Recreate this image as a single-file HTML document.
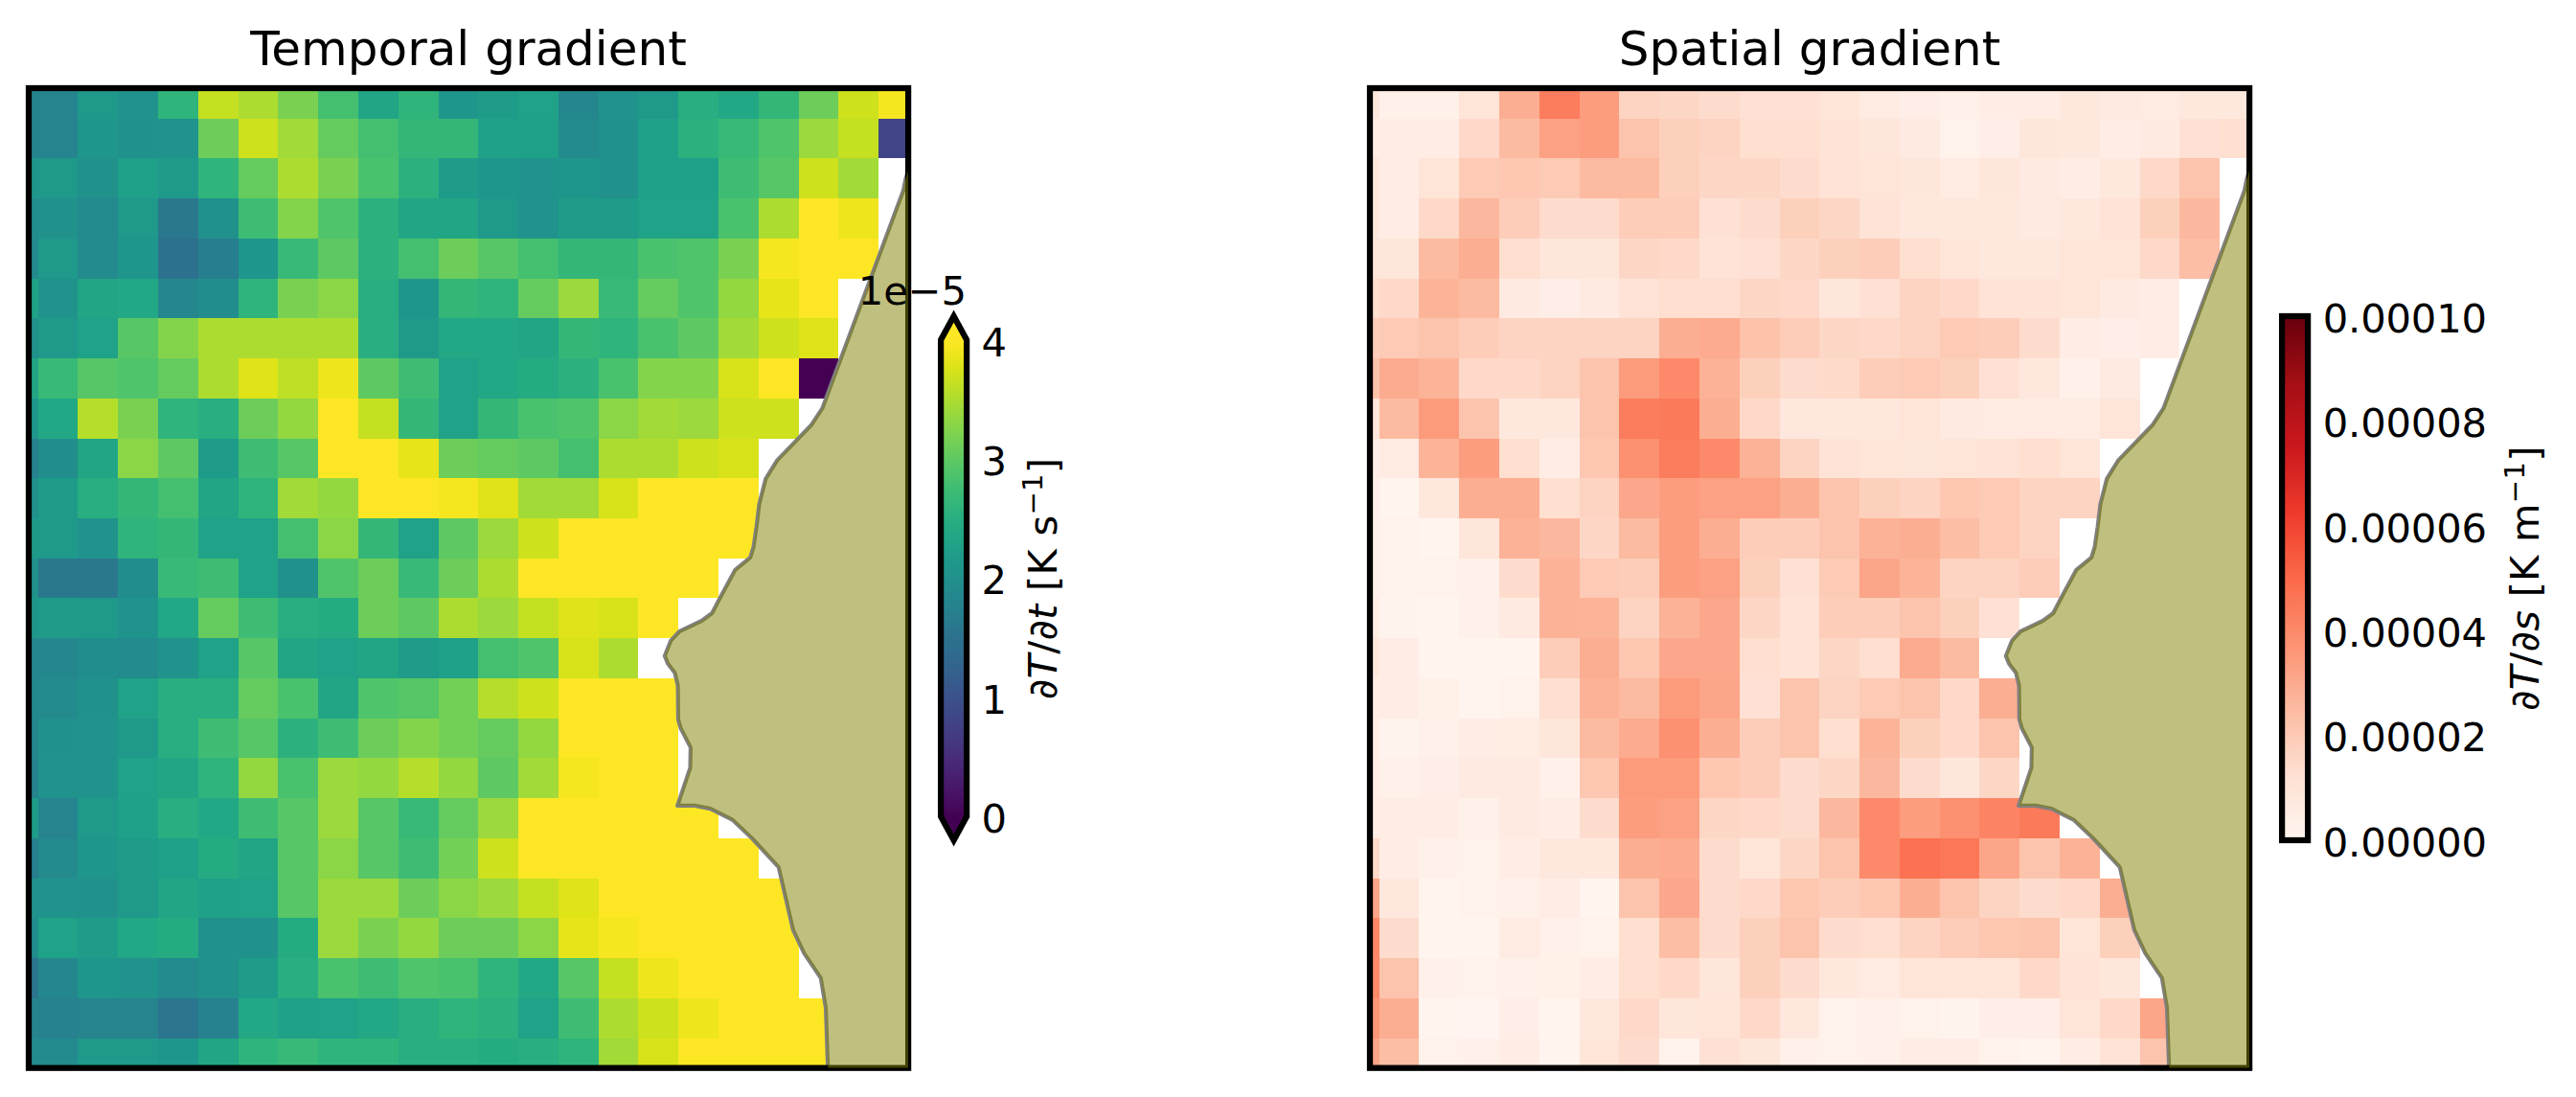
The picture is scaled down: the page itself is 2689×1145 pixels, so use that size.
<!DOCTYPE html>
<html lang="en"><head><meta charset="utf-8"><title>Temporal and spatial gradient</title>
<style>html,body{margin:0;padding:0;background:#fff}body{width:2689px;height:1145px;overflow:hidden}svg{display:block}</style>
</head><body>
<svg width="2689" height="1145" viewBox="0 0 2689 1145" font-family='"DejaVu Sans","Liberation Sans",sans-serif' fill="#000">
<defs><linearGradient id="gv" x1="0" y1="1" x2="0" y2="0"><stop offset="0.0000" stop-color="#440154"/><stop offset="0.0312" stop-color="#470d60"/><stop offset="0.0625" stop-color="#48186a"/><stop offset="0.0938" stop-color="#482374"/><stop offset="0.1250" stop-color="#472d7b"/><stop offset="0.1562" stop-color="#453781"/><stop offset="0.1875" stop-color="#424086"/><stop offset="0.2188" stop-color="#3e4989"/><stop offset="0.2500" stop-color="#3b528b"/><stop offset="0.2812" stop-color="#375b8d"/><stop offset="0.3125" stop-color="#33638d"/><stop offset="0.3438" stop-color="#2f6b8e"/><stop offset="0.3750" stop-color="#2c728e"/><stop offset="0.4062" stop-color="#297a8e"/><stop offset="0.4375" stop-color="#26828e"/><stop offset="0.4688" stop-color="#23898e"/><stop offset="0.5000" stop-color="#21918c"/><stop offset="0.5312" stop-color="#1f988b"/><stop offset="0.5625" stop-color="#1fa088"/><stop offset="0.5938" stop-color="#22a785"/><stop offset="0.6250" stop-color="#28ae80"/><stop offset="0.6562" stop-color="#32b67a"/><stop offset="0.6875" stop-color="#3fbc73"/><stop offset="0.7188" stop-color="#4ec36b"/><stop offset="0.7500" stop-color="#5ec962"/><stop offset="0.7812" stop-color="#70cf57"/><stop offset="0.8125" stop-color="#84d44b"/><stop offset="0.8438" stop-color="#98d83e"/><stop offset="0.8750" stop-color="#addc30"/><stop offset="0.9062" stop-color="#c2df23"/><stop offset="0.9375" stop-color="#d8e219"/><stop offset="0.9688" stop-color="#ece51b"/><stop offset="1.0000" stop-color="#fde725"/></linearGradient><linearGradient id="gr" x1="0" y1="1" x2="0" y2="0"><stop offset="0.0000" stop-color="#fff5f0"/><stop offset="0.0312" stop-color="#fff0e8"/><stop offset="0.0625" stop-color="#feeae1"/><stop offset="0.0938" stop-color="#fee5d9"/><stop offset="0.1250" stop-color="#fee0d2"/><stop offset="0.1562" stop-color="#fdd7c6"/><stop offset="0.1875" stop-color="#fdcdb9"/><stop offset="0.2188" stop-color="#fcc4ad"/><stop offset="0.2500" stop-color="#fcbba1"/><stop offset="0.2812" stop-color="#fcb095"/><stop offset="0.3125" stop-color="#fca689"/><stop offset="0.3438" stop-color="#fc9c7d"/><stop offset="0.3750" stop-color="#fc9272"/><stop offset="0.4062" stop-color="#fc8767"/><stop offset="0.4375" stop-color="#fb7d5d"/><stop offset="0.4688" stop-color="#fb7353"/><stop offset="0.5000" stop-color="#fb694a"/><stop offset="0.5312" stop-color="#f85d42"/><stop offset="0.5625" stop-color="#f5523a"/><stop offset="0.5938" stop-color="#f24633"/><stop offset="0.6250" stop-color="#ee3a2c"/><stop offset="0.6562" stop-color="#e53228"/><stop offset="0.6875" stop-color="#dc2924"/><stop offset="0.7188" stop-color="#d32020"/><stop offset="0.7500" stop-color="#ca181d"/><stop offset="0.7812" stop-color="#c1161b"/><stop offset="0.8125" stop-color="#b71319"/><stop offset="0.8438" stop-color="#ad1117"/><stop offset="0.8750" stop-color="#a30f15"/><stop offset="0.9062" stop-color="#940b13"/><stop offset="0.9375" stop-color="#840711"/><stop offset="0.9688" stop-color="#75030f"/><stop offset="1.0000" stop-color="#67000d"/></linearGradient><clipPath id="cl"><rect x="30" y="92" width="918.1" height="1022.7"/></clipPath><clipPath id="cr"><rect x="1430" y="92" width="918.1" height="1022.7"/></clipPath></defs>
<rect width="2689" height="1145" fill="#fff"/>
<g clip-path="url(#cl)" shape-rendering="crispEdges">
<rect x="29" y="91" width="52" height="33" fill="#25848e"/>
<rect x="81" y="91" width="42" height="33" fill="#1f998a"/>
<rect x="123" y="91" width="42" height="33" fill="#20938c"/>
<rect x="165" y="91" width="42" height="33" fill="#2fb47c"/>
<rect x="207" y="91" width="42" height="33" fill="#c5e021"/>
<rect x="249" y="91" width="41" height="33" fill="#addc30"/>
<rect x="290" y="91" width="42" height="33" fill="#7ad151"/>
<rect x="332" y="91" width="42" height="33" fill="#44bf70"/>
<rect x="374" y="91" width="42" height="33" fill="#21a585"/>
<rect x="416" y="91" width="42" height="33" fill="#2fb47c"/>
<rect x="458" y="91" width="41" height="33" fill="#1f968b"/>
<rect x="499" y="91" width="42" height="33" fill="#1e9c89"/>
<rect x="541" y="91" width="42" height="33" fill="#1fa287"/>
<rect x="583" y="91" width="42" height="33" fill="#24878e"/>
<rect x="625" y="91" width="41" height="33" fill="#20938c"/>
<rect x="666" y="91" width="42" height="33" fill="#1f998a"/>
<rect x="708" y="91" width="42" height="33" fill="#28ae80"/>
<rect x="750" y="91" width="42" height="33" fill="#22a884"/>
<rect x="792" y="91" width="42" height="33" fill="#34b679"/>
<rect x="834" y="91" width="41" height="33" fill="#6ccd5a"/>
<rect x="875" y="91" width="42" height="33" fill="#cde11d"/>
<rect x="917" y="91" width="32" height="33" fill="#f6e620"/>
<rect x="29" y="124" width="52" height="41" fill="#25848e"/>
<rect x="81" y="124" width="42" height="41" fill="#1f968b"/>
<rect x="123" y="124" width="42" height="41" fill="#21918c"/>
<rect x="165" y="124" width="42" height="41" fill="#20938c"/>
<rect x="207" y="124" width="42" height="41" fill="#6ccd5a"/>
<rect x="249" y="124" width="41" height="41" fill="#cde11d"/>
<rect x="290" y="124" width="42" height="41" fill="#a2da37"/>
<rect x="332" y="124" width="42" height="41" fill="#65cb5e"/>
<rect x="374" y="124" width="42" height="41" fill="#44bf70"/>
<rect x="416" y="124" width="83" height="41" fill="#34b679"/>
<rect x="499" y="124" width="84" height="41" fill="#1fa088"/>
<rect x="583" y="124" width="42" height="41" fill="#238a8d"/>
<rect x="625" y="124" width="41" height="41" fill="#21918c"/>
<rect x="666" y="124" width="42" height="41" fill="#1fa088"/>
<rect x="708" y="124" width="42" height="41" fill="#2cb17e"/>
<rect x="750" y="124" width="42" height="41" fill="#38b977"/>
<rect x="792" y="124" width="42" height="41" fill="#50c46a"/>
<rect x="834" y="124" width="41" height="41" fill="#9bd93c"/>
<rect x="875" y="124" width="42" height="41" fill="#c5e021"/>
<rect x="917" y="124" width="32" height="41" fill="#414487"/>
<rect x="29" y="165" width="11" height="42" fill="#1f968b"/>
<rect x="40" y="165" width="41" height="42" fill="#1f998a"/>
<rect x="81" y="165" width="42" height="42" fill="#21918c"/>
<rect x="123" y="165" width="42" height="42" fill="#1fa088"/>
<rect x="165" y="165" width="42" height="42" fill="#1f998a"/>
<rect x="207" y="165" width="42" height="42" fill="#2fb47c"/>
<rect x="249" y="165" width="41" height="42" fill="#65cb5e"/>
<rect x="290" y="165" width="42" height="42" fill="#addc30"/>
<rect x="332" y="165" width="42" height="42" fill="#7ad151"/>
<rect x="374" y="165" width="42" height="42" fill="#4ac16d"/>
<rect x="416" y="165" width="42" height="42" fill="#2cb17e"/>
<rect x="458" y="165" width="41" height="42" fill="#1e9c89"/>
<rect x="499" y="165" width="42" height="42" fill="#1f968b"/>
<rect x="541" y="165" width="42" height="42" fill="#20938c"/>
<rect x="583" y="165" width="42" height="42" fill="#1f968b"/>
<rect x="625" y="165" width="41" height="42" fill="#21918c"/>
<rect x="666" y="165" width="84" height="42" fill="#1fa088"/>
<rect x="750" y="165" width="42" height="42" fill="#3fbc73"/>
<rect x="792" y="165" width="42" height="42" fill="#56c667"/>
<rect x="834" y="165" width="41" height="42" fill="#cde11d"/>
<rect x="875" y="165" width="42" height="42" fill="#a2da37"/>
<rect x="29" y="207" width="11" height="42" fill="#228d8d"/>
<rect x="40" y="207" width="41" height="42" fill="#21918c"/>
<rect x="81" y="207" width="42" height="42" fill="#238a8d"/>
<rect x="123" y="207" width="42" height="42" fill="#1f998a"/>
<rect x="165" y="207" width="42" height="42" fill="#2a788e"/>
<rect x="207" y="207" width="42" height="42" fill="#21918c"/>
<rect x="249" y="207" width="41" height="42" fill="#3fbc73"/>
<rect x="290" y="207" width="42" height="42" fill="#84d44b"/>
<rect x="332" y="207" width="42" height="42" fill="#50c46a"/>
<rect x="374" y="207" width="42" height="42" fill="#2cb17e"/>
<rect x="416" y="207" width="83" height="42" fill="#21a585"/>
<rect x="499" y="207" width="42" height="42" fill="#1f998a"/>
<rect x="541" y="207" width="42" height="42" fill="#20938c"/>
<rect x="583" y="207" width="83" height="42" fill="#1e9c89"/>
<rect x="666" y="207" width="84" height="42" fill="#1fa287"/>
<rect x="750" y="207" width="42" height="42" fill="#4ac16d"/>
<rect x="792" y="207" width="42" height="42" fill="#addc30"/>
<rect x="834" y="207" width="41" height="42" fill="#fde725"/>
<rect x="875" y="207" width="42" height="42" fill="#efe51c"/>
<rect x="29" y="249" width="11" height="42" fill="#238a8d"/>
<rect x="40" y="249" width="41" height="42" fill="#1f998a"/>
<rect x="81" y="249" width="42" height="42" fill="#238a8d"/>
<rect x="123" y="249" width="42" height="42" fill="#1f968b"/>
<rect x="165" y="249" width="42" height="42" fill="#2c728e"/>
<rect x="207" y="249" width="42" height="42" fill="#277e8e"/>
<rect x="249" y="249" width="41" height="42" fill="#1f968b"/>
<rect x="290" y="249" width="42" height="42" fill="#38b977"/>
<rect x="332" y="249" width="42" height="42" fill="#5ec962"/>
<rect x="374" y="249" width="42" height="42" fill="#2cb17e"/>
<rect x="416" y="249" width="42" height="42" fill="#44bf70"/>
<rect x="458" y="249" width="41" height="42" fill="#6ccd5a"/>
<rect x="499" y="249" width="42" height="42" fill="#56c667"/>
<rect x="541" y="249" width="42" height="42" fill="#44bf70"/>
<rect x="583" y="249" width="83" height="42" fill="#34b679"/>
<rect x="666" y="249" width="42" height="42" fill="#4ac16d"/>
<rect x="708" y="249" width="42" height="42" fill="#50c46a"/>
<rect x="750" y="249" width="42" height="42" fill="#7ad151"/>
<rect x="792" y="249" width="42" height="42" fill="#f6e620"/>
<rect x="834" y="249" width="83" height="42" fill="#fde725"/>
<rect x="29" y="291" width="11" height="41" fill="#1fa287"/>
<rect x="40" y="291" width="41" height="41" fill="#20938c"/>
<rect x="81" y="291" width="42" height="41" fill="#21a585"/>
<rect x="123" y="291" width="42" height="41" fill="#22a884"/>
<rect x="165" y="291" width="42" height="41" fill="#24878e"/>
<rect x="207" y="291" width="42" height="41" fill="#228d8d"/>
<rect x="249" y="291" width="41" height="41" fill="#2fb47c"/>
<rect x="290" y="291" width="42" height="41" fill="#7ad151"/>
<rect x="332" y="291" width="42" height="41" fill="#8bd646"/>
<rect x="374" y="291" width="42" height="41" fill="#28ae80"/>
<rect x="416" y="291" width="42" height="41" fill="#1f968b"/>
<rect x="458" y="291" width="41" height="41" fill="#34b679"/>
<rect x="499" y="291" width="42" height="41" fill="#2fb47c"/>
<rect x="541" y="291" width="42" height="41" fill="#65cb5e"/>
<rect x="583" y="291" width="42" height="41" fill="#9bd93c"/>
<rect x="625" y="291" width="41" height="41" fill="#38b977"/>
<rect x="666" y="291" width="42" height="41" fill="#65cb5e"/>
<rect x="708" y="291" width="42" height="41" fill="#50c46a"/>
<rect x="750" y="291" width="42" height="41" fill="#93d741"/>
<rect x="792" y="291" width="42" height="41" fill="#e7e419"/>
<rect x="834" y="291" width="41" height="41" fill="#fde725"/>
<rect x="29" y="332" width="11" height="42" fill="#21918c"/>
<rect x="40" y="332" width="41" height="42" fill="#1f998a"/>
<rect x="81" y="332" width="42" height="42" fill="#1fa287"/>
<rect x="123" y="332" width="42" height="42" fill="#56c667"/>
<rect x="165" y="332" width="42" height="42" fill="#84d44b"/>
<rect x="207" y="332" width="167" height="42" fill="#addc30"/>
<rect x="374" y="332" width="42" height="42" fill="#28ae80"/>
<rect x="416" y="332" width="42" height="42" fill="#1f998a"/>
<rect x="458" y="332" width="83" height="42" fill="#22a884"/>
<rect x="541" y="332" width="42" height="42" fill="#21a585"/>
<rect x="583" y="332" width="42" height="42" fill="#34b679"/>
<rect x="625" y="332" width="41" height="42" fill="#2fb47c"/>
<rect x="666" y="332" width="42" height="42" fill="#4ac16d"/>
<rect x="708" y="332" width="42" height="42" fill="#5ec962"/>
<rect x="750" y="332" width="42" height="42" fill="#a2da37"/>
<rect x="792" y="332" width="42" height="42" fill="#cde11d"/>
<rect x="834" y="332" width="41" height="42" fill="#dfe318"/>
<rect x="29" y="374" width="11" height="42" fill="#21a585"/>
<rect x="40" y="374" width="41" height="42" fill="#38b977"/>
<rect x="81" y="374" width="42" height="42" fill="#56c667"/>
<rect x="123" y="374" width="42" height="42" fill="#50c46a"/>
<rect x="165" y="374" width="42" height="42" fill="#65cb5e"/>
<rect x="207" y="374" width="42" height="42" fill="#addc30"/>
<rect x="249" y="374" width="41" height="42" fill="#dfe318"/>
<rect x="290" y="374" width="42" height="42" fill="#bddf26"/>
<rect x="332" y="374" width="42" height="42" fill="#efe51c"/>
<rect x="374" y="374" width="42" height="42" fill="#5ec962"/>
<rect x="416" y="374" width="42" height="42" fill="#3fbc73"/>
<rect x="458" y="374" width="41" height="42" fill="#1fa287"/>
<rect x="499" y="374" width="42" height="42" fill="#22a884"/>
<rect x="541" y="374" width="42" height="42" fill="#25ab82"/>
<rect x="583" y="374" width="42" height="42" fill="#2cb17e"/>
<rect x="625" y="374" width="41" height="42" fill="#4ac16d"/>
<rect x="666" y="374" width="84" height="42" fill="#84d44b"/>
<rect x="750" y="374" width="42" height="42" fill="#d8e219"/>
<rect x="792" y="374" width="42" height="42" fill="#fde725"/>
<rect x="834" y="374" width="41" height="42" fill="#440154"/>
<rect x="29" y="416" width="11" height="42" fill="#1f968b"/>
<rect x="40" y="416" width="41" height="42" fill="#22a884"/>
<rect x="81" y="416" width="42" height="42" fill="#b5de2b"/>
<rect x="123" y="416" width="42" height="42" fill="#7ad151"/>
<rect x="165" y="416" width="42" height="42" fill="#2fb47c"/>
<rect x="207" y="416" width="42" height="42" fill="#28ae80"/>
<rect x="249" y="416" width="41" height="42" fill="#6ccd5a"/>
<rect x="290" y="416" width="42" height="42" fill="#93d741"/>
<rect x="332" y="416" width="42" height="42" fill="#fde725"/>
<rect x="374" y="416" width="42" height="42" fill="#c5e021"/>
<rect x="416" y="416" width="42" height="42" fill="#34b679"/>
<rect x="458" y="416" width="41" height="42" fill="#1fa287"/>
<rect x="499" y="416" width="42" height="42" fill="#34b679"/>
<rect x="541" y="416" width="42" height="42" fill="#4ac16d"/>
<rect x="583" y="416" width="42" height="42" fill="#50c46a"/>
<rect x="625" y="416" width="41" height="42" fill="#8bd646"/>
<rect x="666" y="416" width="42" height="42" fill="#a2da37"/>
<rect x="708" y="416" width="42" height="42" fill="#9bd93c"/>
<rect x="750" y="416" width="84" height="42" fill="#cde11d"/>
<rect x="29" y="458" width="11" height="41" fill="#26828e"/>
<rect x="40" y="458" width="41" height="41" fill="#228d8d"/>
<rect x="81" y="458" width="42" height="41" fill="#21a585"/>
<rect x="123" y="458" width="42" height="41" fill="#8bd646"/>
<rect x="165" y="458" width="42" height="41" fill="#5ec962"/>
<rect x="207" y="458" width="42" height="41" fill="#1e9c89"/>
<rect x="249" y="458" width="41" height="41" fill="#3fbc73"/>
<rect x="290" y="458" width="42" height="41" fill="#56c667"/>
<rect x="332" y="458" width="84" height="41" fill="#fde725"/>
<rect x="416" y="458" width="42" height="41" fill="#e7e419"/>
<rect x="458" y="458" width="41" height="41" fill="#6ccd5a"/>
<rect x="499" y="458" width="42" height="41" fill="#65cb5e"/>
<rect x="541" y="458" width="42" height="41" fill="#5ec962"/>
<rect x="583" y="458" width="42" height="41" fill="#44bf70"/>
<rect x="625" y="458" width="83" height="41" fill="#addc30"/>
<rect x="708" y="458" width="42" height="41" fill="#cde11d"/>
<rect x="750" y="458" width="42" height="41" fill="#d8e219"/>
<rect x="29" y="499" width="11" height="42" fill="#21918c"/>
<rect x="40" y="499" width="41" height="42" fill="#1e9c89"/>
<rect x="81" y="499" width="42" height="42" fill="#28ae80"/>
<rect x="123" y="499" width="42" height="42" fill="#34b679"/>
<rect x="165" y="499" width="42" height="42" fill="#44bf70"/>
<rect x="207" y="499" width="42" height="42" fill="#21a585"/>
<rect x="249" y="499" width="41" height="42" fill="#2fb47c"/>
<rect x="290" y="499" width="42" height="42" fill="#a2da37"/>
<rect x="332" y="499" width="42" height="42" fill="#93d741"/>
<rect x="374" y="499" width="84" height="42" fill="#fde725"/>
<rect x="458" y="499" width="41" height="42" fill="#f6e620"/>
<rect x="499" y="499" width="42" height="42" fill="#dfe318"/>
<rect x="541" y="499" width="84" height="42" fill="#a2da37"/>
<rect x="625" y="499" width="41" height="42" fill="#d8e219"/>
<rect x="666" y="499" width="126" height="42" fill="#fde725"/>
<rect x="29" y="541" width="52" height="42" fill="#1f998a"/>
<rect x="81" y="541" width="42" height="42" fill="#20938c"/>
<rect x="123" y="541" width="42" height="42" fill="#2fb47c"/>
<rect x="165" y="541" width="42" height="42" fill="#34b679"/>
<rect x="207" y="541" width="83" height="42" fill="#1fa287"/>
<rect x="290" y="541" width="42" height="42" fill="#44bf70"/>
<rect x="332" y="541" width="42" height="42" fill="#8bd646"/>
<rect x="374" y="541" width="42" height="42" fill="#34b679"/>
<rect x="416" y="541" width="42" height="42" fill="#1fa287"/>
<rect x="458" y="541" width="41" height="42" fill="#5ec962"/>
<rect x="499" y="541" width="42" height="42" fill="#9bd93c"/>
<rect x="541" y="541" width="42" height="42" fill="#cde11d"/>
<rect x="583" y="541" width="209" height="42" fill="#fde725"/>
<rect x="29" y="583" width="11" height="41" fill="#21918c"/>
<rect x="40" y="583" width="83" height="41" fill="#2a788e"/>
<rect x="123" y="583" width="42" height="41" fill="#228d8d"/>
<rect x="165" y="583" width="42" height="41" fill="#38b977"/>
<rect x="207" y="583" width="42" height="41" fill="#3fbc73"/>
<rect x="249" y="583" width="41" height="41" fill="#1fa287"/>
<rect x="290" y="583" width="42" height="41" fill="#21918c"/>
<rect x="332" y="583" width="42" height="41" fill="#50c46a"/>
<rect x="374" y="583" width="42" height="41" fill="#6ccd5a"/>
<rect x="416" y="583" width="42" height="41" fill="#38b977"/>
<rect x="458" y="583" width="41" height="41" fill="#6ccd5a"/>
<rect x="499" y="583" width="42" height="41" fill="#addc30"/>
<rect x="541" y="583" width="209" height="41" fill="#fde725"/>
<rect x="29" y="624" width="11" height="42" fill="#1f968b"/>
<rect x="40" y="624" width="41" height="42" fill="#1e9c89"/>
<rect x="81" y="624" width="42" height="42" fill="#1f998a"/>
<rect x="123" y="624" width="42" height="42" fill="#20938c"/>
<rect x="165" y="624" width="42" height="42" fill="#22a884"/>
<rect x="207" y="624" width="42" height="42" fill="#65cb5e"/>
<rect x="249" y="624" width="41" height="42" fill="#3fbc73"/>
<rect x="290" y="624" width="42" height="42" fill="#28ae80"/>
<rect x="332" y="624" width="42" height="42" fill="#25ab82"/>
<rect x="374" y="624" width="42" height="42" fill="#6ccd5a"/>
<rect x="416" y="624" width="42" height="42" fill="#5ec962"/>
<rect x="458" y="624" width="41" height="42" fill="#addc30"/>
<rect x="499" y="624" width="42" height="42" fill="#9bd93c"/>
<rect x="541" y="624" width="42" height="42" fill="#c5e021"/>
<rect x="583" y="624" width="42" height="42" fill="#dfe318"/>
<rect x="625" y="624" width="41" height="42" fill="#d8e219"/>
<rect x="666" y="624" width="42" height="42" fill="#fde725"/>
<rect x="29" y="666" width="52" height="42" fill="#24878e"/>
<rect x="81" y="666" width="42" height="42" fill="#228d8d"/>
<rect x="123" y="666" width="42" height="42" fill="#238a8d"/>
<rect x="165" y="666" width="42" height="42" fill="#20938c"/>
<rect x="207" y="666" width="42" height="42" fill="#1fa287"/>
<rect x="249" y="666" width="41" height="42" fill="#56c667"/>
<rect x="290" y="666" width="42" height="42" fill="#21a585"/>
<rect x="332" y="666" width="42" height="42" fill="#1fa287"/>
<rect x="374" y="666" width="42" height="42" fill="#21a585"/>
<rect x="416" y="666" width="42" height="42" fill="#1e9c89"/>
<rect x="458" y="666" width="41" height="42" fill="#1fa088"/>
<rect x="499" y="666" width="42" height="42" fill="#44bf70"/>
<rect x="541" y="666" width="42" height="42" fill="#50c46a"/>
<rect x="583" y="666" width="42" height="42" fill="#d8e219"/>
<rect x="625" y="666" width="41" height="42" fill="#addc30"/>
<rect x="29" y="708" width="11" height="42" fill="#24878e"/>
<rect x="40" y="708" width="41" height="42" fill="#238a8d"/>
<rect x="81" y="708" width="42" height="42" fill="#21918c"/>
<rect x="123" y="708" width="42" height="42" fill="#1fa287"/>
<rect x="165" y="708" width="84" height="42" fill="#28ae80"/>
<rect x="249" y="708" width="41" height="42" fill="#65cb5e"/>
<rect x="290" y="708" width="42" height="42" fill="#4ac16d"/>
<rect x="332" y="708" width="42" height="42" fill="#21a585"/>
<rect x="374" y="708" width="42" height="42" fill="#50c46a"/>
<rect x="416" y="708" width="42" height="42" fill="#56c667"/>
<rect x="458" y="708" width="41" height="42" fill="#73d056"/>
<rect x="499" y="708" width="42" height="42" fill="#b5de2b"/>
<rect x="541" y="708" width="42" height="42" fill="#cde11d"/>
<rect x="583" y="708" width="125" height="42" fill="#fde725"/>
<rect x="29" y="750" width="11" height="41" fill="#24878e"/>
<rect x="40" y="750" width="41" height="41" fill="#21918c"/>
<rect x="81" y="750" width="42" height="41" fill="#20938c"/>
<rect x="123" y="750" width="42" height="41" fill="#1f998a"/>
<rect x="165" y="750" width="42" height="41" fill="#28ae80"/>
<rect x="207" y="750" width="42" height="41" fill="#3fbc73"/>
<rect x="249" y="750" width="41" height="41" fill="#56c667"/>
<rect x="290" y="750" width="42" height="41" fill="#2cb17e"/>
<rect x="332" y="750" width="42" height="41" fill="#3fbc73"/>
<rect x="374" y="750" width="42" height="41" fill="#6ccd5a"/>
<rect x="416" y="750" width="42" height="41" fill="#84d44b"/>
<rect x="458" y="750" width="41" height="41" fill="#73d056"/>
<rect x="499" y="750" width="42" height="41" fill="#65cb5e"/>
<rect x="541" y="750" width="42" height="41" fill="#93d741"/>
<rect x="583" y="750" width="125" height="41" fill="#fde725"/>
<rect x="29" y="791" width="11" height="42" fill="#25848e"/>
<rect x="40" y="791" width="83" height="42" fill="#20938c"/>
<rect x="123" y="791" width="42" height="42" fill="#1fa287"/>
<rect x="165" y="791" width="42" height="42" fill="#21a585"/>
<rect x="207" y="791" width="42" height="42" fill="#2fb47c"/>
<rect x="249" y="791" width="41" height="42" fill="#93d741"/>
<rect x="290" y="791" width="42" height="42" fill="#4ac16d"/>
<rect x="332" y="791" width="42" height="42" fill="#9bd93c"/>
<rect x="374" y="791" width="42" height="42" fill="#93d741"/>
<rect x="416" y="791" width="42" height="42" fill="#b5de2b"/>
<rect x="458" y="791" width="41" height="42" fill="#93d741"/>
<rect x="499" y="791" width="42" height="42" fill="#5ec962"/>
<rect x="541" y="791" width="42" height="42" fill="#a2da37"/>
<rect x="583" y="791" width="42" height="42" fill="#f6e620"/>
<rect x="625" y="791" width="83" height="42" fill="#fde725"/>
<rect x="29" y="833" width="11" height="42" fill="#1e9c89"/>
<rect x="40" y="833" width="41" height="42" fill="#25848e"/>
<rect x="81" y="833" width="42" height="42" fill="#1f998a"/>
<rect x="123" y="833" width="42" height="42" fill="#1fa088"/>
<rect x="165" y="833" width="42" height="42" fill="#28ae80"/>
<rect x="207" y="833" width="42" height="42" fill="#22a884"/>
<rect x="249" y="833" width="41" height="42" fill="#3fbc73"/>
<rect x="290" y="833" width="42" height="42" fill="#56c667"/>
<rect x="332" y="833" width="42" height="42" fill="#9bd93c"/>
<rect x="374" y="833" width="42" height="42" fill="#56c667"/>
<rect x="416" y="833" width="42" height="42" fill="#38b977"/>
<rect x="458" y="833" width="41" height="42" fill="#65cb5e"/>
<rect x="499" y="833" width="42" height="42" fill="#9bd93c"/>
<rect x="541" y="833" width="209" height="42" fill="#fde725"/>
<rect x="29" y="875" width="11" height="42" fill="#277e8e"/>
<rect x="40" y="875" width="41" height="42" fill="#238a8d"/>
<rect x="81" y="875" width="42" height="42" fill="#1f968b"/>
<rect x="123" y="875" width="42" height="42" fill="#1e9c89"/>
<rect x="165" y="875" width="42" height="42" fill="#1fa088"/>
<rect x="207" y="875" width="42" height="42" fill="#25ab82"/>
<rect x="249" y="875" width="41" height="42" fill="#21a585"/>
<rect x="290" y="875" width="42" height="42" fill="#56c667"/>
<rect x="332" y="875" width="42" height="42" fill="#8bd646"/>
<rect x="374" y="875" width="42" height="42" fill="#56c667"/>
<rect x="416" y="875" width="42" height="42" fill="#3fbc73"/>
<rect x="458" y="875" width="41" height="42" fill="#73d056"/>
<rect x="499" y="875" width="42" height="42" fill="#cde11d"/>
<rect x="541" y="875" width="251" height="42" fill="#fde725"/>
<rect x="29" y="917" width="52" height="41" fill="#20938c"/>
<rect x="81" y="917" width="42" height="41" fill="#21918c"/>
<rect x="123" y="917" width="42" height="41" fill="#1f998a"/>
<rect x="165" y="917" width="42" height="41" fill="#21a585"/>
<rect x="207" y="917" width="42" height="41" fill="#1fa088"/>
<rect x="249" y="917" width="41" height="41" fill="#1fa287"/>
<rect x="290" y="917" width="42" height="41" fill="#56c667"/>
<rect x="332" y="917" width="84" height="41" fill="#9bd93c"/>
<rect x="416" y="917" width="42" height="41" fill="#6ccd5a"/>
<rect x="458" y="917" width="41" height="41" fill="#8bd646"/>
<rect x="499" y="917" width="42" height="41" fill="#9bd93c"/>
<rect x="541" y="917" width="42" height="41" fill="#c5e021"/>
<rect x="583" y="917" width="42" height="41" fill="#dfe318"/>
<rect x="625" y="917" width="209" height="41" fill="#fde725"/>
<rect x="29" y="958" width="11" height="42" fill="#228d8d"/>
<rect x="40" y="958" width="41" height="42" fill="#1fa287"/>
<rect x="81" y="958" width="42" height="42" fill="#1e9c89"/>
<rect x="123" y="958" width="42" height="42" fill="#22a884"/>
<rect x="165" y="958" width="42" height="42" fill="#25ab82"/>
<rect x="207" y="958" width="83" height="42" fill="#21918c"/>
<rect x="290" y="958" width="42" height="42" fill="#25ab82"/>
<rect x="332" y="958" width="42" height="42" fill="#9bd93c"/>
<rect x="374" y="958" width="42" height="42" fill="#7ad151"/>
<rect x="416" y="958" width="42" height="42" fill="#93d741"/>
<rect x="458" y="958" width="83" height="42" fill="#6ccd5a"/>
<rect x="541" y="958" width="42" height="42" fill="#8bd646"/>
<rect x="583" y="958" width="42" height="42" fill="#e7e419"/>
<rect x="625" y="958" width="41" height="42" fill="#f6e620"/>
<rect x="666" y="958" width="168" height="42" fill="#fde725"/>
<rect x="29" y="1000" width="11" height="42" fill="#2b758e"/>
<rect x="40" y="1000" width="41" height="42" fill="#24878e"/>
<rect x="81" y="1000" width="42" height="42" fill="#1f968b"/>
<rect x="123" y="1000" width="42" height="42" fill="#20938c"/>
<rect x="165" y="1000" width="42" height="42" fill="#238a8d"/>
<rect x="207" y="1000" width="42" height="42" fill="#21918c"/>
<rect x="249" y="1000" width="41" height="42" fill="#1e9c89"/>
<rect x="290" y="1000" width="42" height="42" fill="#28ae80"/>
<rect x="332" y="1000" width="42" height="42" fill="#4ac16d"/>
<rect x="374" y="1000" width="42" height="42" fill="#3fbc73"/>
<rect x="416" y="1000" width="42" height="42" fill="#50c46a"/>
<rect x="458" y="1000" width="41" height="42" fill="#4ac16d"/>
<rect x="499" y="1000" width="42" height="42" fill="#2fb47c"/>
<rect x="541" y="1000" width="42" height="42" fill="#22a884"/>
<rect x="583" y="1000" width="42" height="42" fill="#56c667"/>
<rect x="625" y="1000" width="41" height="42" fill="#c5e021"/>
<rect x="666" y="1000" width="42" height="42" fill="#efe51c"/>
<rect x="708" y="1000" width="126" height="42" fill="#fde725"/>
<rect x="29" y="1042" width="11" height="42" fill="#25848e"/>
<rect x="40" y="1042" width="41" height="42" fill="#26828e"/>
<rect x="81" y="1042" width="84" height="42" fill="#25848e"/>
<rect x="165" y="1042" width="42" height="42" fill="#2b758e"/>
<rect x="207" y="1042" width="42" height="42" fill="#26828e"/>
<rect x="249" y="1042" width="41" height="42" fill="#22a884"/>
<rect x="290" y="1042" width="42" height="42" fill="#1fa088"/>
<rect x="332" y="1042" width="42" height="42" fill="#1fa287"/>
<rect x="374" y="1042" width="42" height="42" fill="#22a884"/>
<rect x="416" y="1042" width="42" height="42" fill="#28ae80"/>
<rect x="458" y="1042" width="41" height="42" fill="#2fb47c"/>
<rect x="499" y="1042" width="42" height="42" fill="#2cb17e"/>
<rect x="541" y="1042" width="42" height="42" fill="#1fa287"/>
<rect x="583" y="1042" width="42" height="42" fill="#3fbc73"/>
<rect x="625" y="1042" width="41" height="42" fill="#addc30"/>
<rect x="666" y="1042" width="42" height="42" fill="#cde11d"/>
<rect x="708" y="1042" width="42" height="42" fill="#efe51c"/>
<rect x="750" y="1042" width="125" height="42" fill="#fde725"/>
<rect x="29" y="1084" width="52" height="32" fill="#238a8d"/>
<rect x="81" y="1084" width="84" height="32" fill="#1f998a"/>
<rect x="165" y="1084" width="42" height="32" fill="#1f968b"/>
<rect x="207" y="1084" width="42" height="32" fill="#21a585"/>
<rect x="249" y="1084" width="41" height="32" fill="#2fb47c"/>
<rect x="290" y="1084" width="42" height="32" fill="#38b977"/>
<rect x="332" y="1084" width="84" height="32" fill="#2fb47c"/>
<rect x="416" y="1084" width="83" height="32" fill="#28ae80"/>
<rect x="499" y="1084" width="42" height="32" fill="#25ab82"/>
<rect x="541" y="1084" width="42" height="32" fill="#28ae80"/>
<rect x="583" y="1084" width="42" height="32" fill="#2fb47c"/>
<rect x="625" y="1084" width="41" height="32" fill="#a2da37"/>
<rect x="666" y="1084" width="42" height="32" fill="#d8e219"/>
<rect x="708" y="1084" width="167" height="32" fill="#fde725"/>
</g>
<g clip-path="url(#cl)"><path d="M948 178 L945.2 187.6 L942.9 199 L858.4 426.2 L846.8 443.8 L811.3 480.4 L799.2 499.9 L792.5 526.2 L789.6 550.2 L786.6 570.8 L783.2 581.8 L767.4 594.8 L751.1 625 L743.3 640 L732.4 648 L709.5 658.8 L700.3 668.6 L693.9 684.6 L697.4 693.1 L704.4 702.3 L707.6 715.5 L707.9 751 L710.6 760.2 L720.9 780.1 L720.5 801.3 L707.2 840.9 L725 840.9 L741.5 844.1 L764.4 855.6 L785 875 L812.8 905.1 L827.9 970.7 L839.5 995.2 L856.8 1020.8 L862 1051.9 L864.2 1114.7 L948.1 1114.7 L948.1 178 Z" fill="#fff"/><path d="M948 178 L945.2 187.6 L942.9 199 L858.4 426.2 L846.8 443.8 L811.3 480.4 L799.2 499.9 L792.5 526.2 L789.6 550.2 L786.6 570.8 L783.2 581.8 L767.4 594.8 L751.1 625 L743.3 640 L732.4 648 L709.5 658.8 L700.3 668.6 L693.9 684.6 L697.4 693.1 L704.4 702.3 L707.6 715.5 L707.9 751 L710.6 760.2 L720.9 780.1 L720.5 801.3 L707.2 840.9 L725 840.9 L741.5 844.1 L764.4 855.6 L785 875 L812.8 905.1 L827.9 970.7 L839.5 995.2 L856.8 1020.8 L862 1051.9 L864.2 1114.7" fill="none" stroke="#808080" stroke-width="4.17" stroke-linejoin="round"/></g>
<rect x="30" y="92" width="918.1" height="1022.7" fill="none" stroke="#000" stroke-width="6.25"/>
<path clip-path="url(#cl)" d="M948 178 L945.2 187.6 L942.9 199 L858.4 426.2 L846.8 443.8 L811.3 480.4 L799.2 499.9 L792.5 526.2 L789.6 550.2 L786.6 570.8 L783.2 581.8 L767.4 594.8 L751.1 625 L743.3 640 L732.4 648 L709.5 658.8 L700.3 668.6 L693.9 684.6 L697.4 693.1 L704.4 702.3 L707.6 715.5 L707.9 751 L710.6 760.2 L720.9 780.1 L720.5 801.3 L707.2 840.9 L725 840.9 L741.5 844.1 L764.4 855.6 L785 875 L812.8 905.1 L827.9 970.7 L839.5 995.2 L856.8 1020.8 L862 1051.9 L864.2 1114.7 L948.1 1114.7 L948.1 178 Z" fill="#808000" fill-opacity="0.5"/>
<g clip-path="url(#cr)" shape-rendering="crispEdges">
<rect x="1429" y="91" width="11" height="33" fill="#fee8dd"/>
<rect x="1440" y="91" width="83" height="33" fill="#fff0e9"/>
<rect x="1523" y="91" width="42" height="33" fill="#fee5d8"/>
<rect x="1565" y="91" width="42" height="33" fill="#fcae92"/>
<rect x="1607" y="91" width="42" height="33" fill="#fb7d5d"/>
<rect x="1649" y="91" width="41" height="33" fill="#fc9d7f"/>
<rect x="1690" y="91" width="42" height="33" fill="#fdd3c1"/>
<rect x="1732" y="91" width="42" height="33" fill="#fdd7c6"/>
<rect x="1774" y="91" width="42" height="33" fill="#fedccd"/>
<rect x="1816" y="91" width="83" height="33" fill="#fee1d4"/>
<rect x="1899" y="91" width="42" height="33" fill="#fee5d8"/>
<rect x="1941" y="91" width="42" height="33" fill="#ffebe2"/>
<rect x="1983" y="91" width="42" height="33" fill="#ffeee7"/>
<rect x="2025" y="91" width="41" height="33" fill="#fff0e9"/>
<rect x="2066" y="91" width="84" height="33" fill="#ffede5"/>
<rect x="2150" y="91" width="42" height="33" fill="#fee8dd"/>
<rect x="2192" y="91" width="42" height="33" fill="#feeae0"/>
<rect x="2234" y="91" width="41" height="33" fill="#ffebe2"/>
<rect x="2275" y="91" width="74" height="33" fill="#fee8dd"/>
<rect x="1429" y="124" width="94" height="41" fill="#ffede5"/>
<rect x="1523" y="124" width="42" height="41" fill="#fed9c9"/>
<rect x="1565" y="124" width="42" height="41" fill="#fcbba1"/>
<rect x="1607" y="124" width="42" height="41" fill="#fca183"/>
<rect x="1649" y="124" width="41" height="41" fill="#fc9d7f"/>
<rect x="1690" y="124" width="42" height="41" fill="#fcc4ad"/>
<rect x="1732" y="124" width="42" height="41" fill="#fdd0bc"/>
<rect x="1774" y="124" width="42" height="41" fill="#fdd3c1"/>
<rect x="1816" y="124" width="83" height="41" fill="#fedfd0"/>
<rect x="1899" y="124" width="42" height="41" fill="#fee3d6"/>
<rect x="1941" y="124" width="42" height="41" fill="#fee6da"/>
<rect x="1983" y="124" width="42" height="41" fill="#feeae0"/>
<rect x="2025" y="124" width="41" height="41" fill="#fff2eb"/>
<rect x="2066" y="124" width="42" height="41" fill="#ffeee7"/>
<rect x="2108" y="124" width="42" height="41" fill="#fee6da"/>
<rect x="2150" y="124" width="42" height="41" fill="#fee8dd"/>
<rect x="2192" y="124" width="42" height="41" fill="#ffede5"/>
<rect x="2234" y="124" width="41" height="41" fill="#feeae0"/>
<rect x="2275" y="124" width="42" height="41" fill="#fee1d4"/>
<rect x="2317" y="124" width="32" height="41" fill="#fedfd0"/>
<rect x="1429" y="165" width="11" height="42" fill="#fee8dd"/>
<rect x="1440" y="165" width="41" height="42" fill="#ffede5"/>
<rect x="1481" y="165" width="42" height="42" fill="#fee5d8"/>
<rect x="1523" y="165" width="42" height="42" fill="#fdcab5"/>
<rect x="1565" y="165" width="42" height="42" fill="#fdc7b2"/>
<rect x="1607" y="165" width="42" height="42" fill="#fdcab5"/>
<rect x="1649" y="165" width="83" height="42" fill="#fcbba1"/>
<rect x="1732" y="165" width="42" height="42" fill="#fdd0bc"/>
<rect x="1774" y="165" width="84" height="42" fill="#fdd7c6"/>
<rect x="1858" y="165" width="41" height="42" fill="#fedccd"/>
<rect x="1899" y="165" width="42" height="42" fill="#fee3d6"/>
<rect x="1941" y="165" width="42" height="42" fill="#fee5d8"/>
<rect x="1983" y="165" width="42" height="42" fill="#fee6da"/>
<rect x="2025" y="165" width="41" height="42" fill="#ffebe2"/>
<rect x="2066" y="165" width="42" height="42" fill="#fee6da"/>
<rect x="2108" y="165" width="42" height="42" fill="#feeae0"/>
<rect x="2150" y="165" width="42" height="42" fill="#ffede5"/>
<rect x="2192" y="165" width="42" height="42" fill="#fee8dd"/>
<rect x="2234" y="165" width="41" height="42" fill="#fed9c9"/>
<rect x="2275" y="165" width="42" height="42" fill="#fcc4ad"/>
<rect x="1429" y="207" width="11" height="42" fill="#fee8dd"/>
<rect x="1440" y="207" width="41" height="42" fill="#ffede5"/>
<rect x="1481" y="207" width="42" height="42" fill="#fed9c9"/>
<rect x="1523" y="207" width="42" height="42" fill="#fcb89e"/>
<rect x="1565" y="207" width="42" height="42" fill="#fdcdb9"/>
<rect x="1607" y="207" width="83" height="42" fill="#fedccd"/>
<rect x="1690" y="207" width="84" height="42" fill="#fdcdb9"/>
<rect x="1774" y="207" width="42" height="42" fill="#fee1d4"/>
<rect x="1816" y="207" width="42" height="42" fill="#fedccd"/>
<rect x="1858" y="207" width="41" height="42" fill="#fdd0bc"/>
<rect x="1899" y="207" width="42" height="42" fill="#fdd7c6"/>
<rect x="1941" y="207" width="42" height="42" fill="#fee3d6"/>
<rect x="1983" y="207" width="125" height="42" fill="#fee8dd"/>
<rect x="2108" y="207" width="42" height="42" fill="#feeae0"/>
<rect x="2150" y="207" width="42" height="42" fill="#fee8dd"/>
<rect x="2192" y="207" width="42" height="42" fill="#fee3d6"/>
<rect x="2234" y="207" width="41" height="42" fill="#fdd0bc"/>
<rect x="2275" y="207" width="42" height="42" fill="#fcb89e"/>
<rect x="1429" y="249" width="52" height="42" fill="#fee6da"/>
<rect x="1481" y="249" width="42" height="42" fill="#fcbba1"/>
<rect x="1523" y="249" width="42" height="42" fill="#fcae92"/>
<rect x="1565" y="249" width="42" height="42" fill="#fedfd0"/>
<rect x="1607" y="249" width="83" height="42" fill="#fee6da"/>
<rect x="1690" y="249" width="42" height="42" fill="#fdd7c6"/>
<rect x="1732" y="249" width="42" height="42" fill="#fed9c9"/>
<rect x="1774" y="249" width="42" height="42" fill="#fee3d6"/>
<rect x="1816" y="249" width="42" height="42" fill="#fee1d4"/>
<rect x="1858" y="249" width="41" height="42" fill="#fdd7c6"/>
<rect x="1899" y="249" width="42" height="42" fill="#fdd0bc"/>
<rect x="1941" y="249" width="42" height="42" fill="#fdcdb9"/>
<rect x="1983" y="249" width="42" height="42" fill="#fedfd0"/>
<rect x="2025" y="249" width="41" height="42" fill="#fee5d8"/>
<rect x="2066" y="249" width="84" height="42" fill="#fee8dd"/>
<rect x="2150" y="249" width="84" height="42" fill="#fee5d8"/>
<rect x="2234" y="249" width="41" height="42" fill="#fed9c9"/>
<rect x="2275" y="249" width="42" height="42" fill="#fcbea5"/>
<rect x="1429" y="291" width="11" height="41" fill="#fedfd0"/>
<rect x="1440" y="291" width="41" height="41" fill="#fed9c9"/>
<rect x="1481" y="291" width="42" height="41" fill="#fcb499"/>
<rect x="1523" y="291" width="42" height="41" fill="#fcbba1"/>
<rect x="1565" y="291" width="42" height="41" fill="#feeae0"/>
<rect x="1607" y="291" width="42" height="41" fill="#ffeee7"/>
<rect x="1649" y="291" width="41" height="41" fill="#feeae0"/>
<rect x="1690" y="291" width="42" height="41" fill="#fee3d6"/>
<rect x="1732" y="291" width="84" height="41" fill="#fedfd0"/>
<rect x="1816" y="291" width="42" height="41" fill="#fdd7c6"/>
<rect x="1858" y="291" width="41" height="41" fill="#fed9c9"/>
<rect x="1899" y="291" width="42" height="41" fill="#fee6da"/>
<rect x="1941" y="291" width="42" height="41" fill="#fee1d4"/>
<rect x="1983" y="291" width="42" height="41" fill="#fdd3c1"/>
<rect x="2025" y="291" width="41" height="41" fill="#fed9c9"/>
<rect x="2066" y="291" width="84" height="41" fill="#fee3d6"/>
<rect x="2150" y="291" width="42" height="41" fill="#fee5d8"/>
<rect x="2192" y="291" width="42" height="41" fill="#feeae0"/>
<rect x="2234" y="291" width="41" height="41" fill="#ffede5"/>
<rect x="1429" y="332" width="11" height="42" fill="#fdcdb9"/>
<rect x="1440" y="332" width="41" height="42" fill="#fdcab5"/>
<rect x="1481" y="332" width="42" height="42" fill="#fcc4ad"/>
<rect x="1523" y="332" width="42" height="42" fill="#fdcdb9"/>
<rect x="1565" y="332" width="167" height="42" fill="#fdd3c1"/>
<rect x="1732" y="332" width="42" height="42" fill="#fcae92"/>
<rect x="1774" y="332" width="42" height="42" fill="#fcab8f"/>
<rect x="1816" y="332" width="42" height="42" fill="#fcc2aa"/>
<rect x="1858" y="332" width="41" height="42" fill="#fdcdb9"/>
<rect x="1899" y="332" width="42" height="42" fill="#fdd7c6"/>
<rect x="1941" y="332" width="42" height="42" fill="#fed9c9"/>
<rect x="1983" y="332" width="42" height="42" fill="#fdd3c1"/>
<rect x="2025" y="332" width="41" height="42" fill="#fdcab5"/>
<rect x="2066" y="332" width="42" height="42" fill="#fdcdb9"/>
<rect x="2108" y="332" width="42" height="42" fill="#fedccd"/>
<rect x="2150" y="332" width="42" height="42" fill="#ffede5"/>
<rect x="2192" y="332" width="42" height="42" fill="#ffeee7"/>
<rect x="2234" y="332" width="41" height="42" fill="#ffede5"/>
<rect x="1429" y="374" width="11" height="42" fill="#fcc2aa"/>
<rect x="1440" y="374" width="41" height="42" fill="#fcab8f"/>
<rect x="1481" y="374" width="42" height="42" fill="#fcb499"/>
<rect x="1523" y="374" width="84" height="42" fill="#fed9c9"/>
<rect x="1607" y="374" width="42" height="42" fill="#fdd3c1"/>
<rect x="1649" y="374" width="41" height="42" fill="#fcc4ad"/>
<rect x="1690" y="374" width="42" height="42" fill="#fc9b7c"/>
<rect x="1732" y="374" width="42" height="42" fill="#fc8a6a"/>
<rect x="1774" y="374" width="42" height="42" fill="#fcb296"/>
<rect x="1816" y="374" width="42" height="42" fill="#fdd0bc"/>
<rect x="1858" y="374" width="41" height="42" fill="#fedccd"/>
<rect x="1899" y="374" width="42" height="42" fill="#fedaca"/>
<rect x="1941" y="374" width="42" height="42" fill="#fdcdb9"/>
<rect x="1983" y="374" width="42" height="42" fill="#fdcab5"/>
<rect x="2025" y="374" width="41" height="42" fill="#fdd0bc"/>
<rect x="2066" y="374" width="42" height="42" fill="#fee1d4"/>
<rect x="2108" y="374" width="42" height="42" fill="#fee8dd"/>
<rect x="2150" y="374" width="42" height="42" fill="#fff0e9"/>
<rect x="2192" y="374" width="42" height="42" fill="#feeae0"/>
<rect x="1429" y="416" width="11" height="42" fill="#fee6da"/>
<rect x="1440" y="416" width="41" height="42" fill="#fcbba1"/>
<rect x="1481" y="416" width="42" height="42" fill="#fc9b7c"/>
<rect x="1523" y="416" width="42" height="42" fill="#fcc4ad"/>
<rect x="1565" y="416" width="84" height="42" fill="#fee8dd"/>
<rect x="1649" y="416" width="41" height="42" fill="#fcc4ad"/>
<rect x="1690" y="416" width="42" height="42" fill="#fb7d5d"/>
<rect x="1732" y="416" width="42" height="42" fill="#fb7a5a"/>
<rect x="1774" y="416" width="42" height="42" fill="#fcae92"/>
<rect x="1816" y="416" width="42" height="42" fill="#fed9c9"/>
<rect x="1858" y="416" width="83" height="42" fill="#fee8dd"/>
<rect x="1941" y="416" width="42" height="42" fill="#fee7dc"/>
<rect x="1983" y="416" width="42" height="42" fill="#fee5d8"/>
<rect x="2025" y="416" width="41" height="42" fill="#feeae0"/>
<rect x="2066" y="416" width="126" height="42" fill="#ffebe2"/>
<rect x="2192" y="416" width="42" height="42" fill="#fee5d8"/>
<rect x="1429" y="458" width="11" height="41" fill="#ffeee7"/>
<rect x="1440" y="458" width="41" height="41" fill="#ffebe2"/>
<rect x="1481" y="458" width="42" height="41" fill="#fcb499"/>
<rect x="1523" y="458" width="42" height="41" fill="#fc9d7f"/>
<rect x="1565" y="458" width="42" height="41" fill="#fedfd0"/>
<rect x="1607" y="458" width="42" height="41" fill="#ffede5"/>
<rect x="1649" y="458" width="41" height="41" fill="#fdc7b2"/>
<rect x="1690" y="458" width="42" height="41" fill="#fc9070"/>
<rect x="1732" y="458" width="42" height="41" fill="#fb7d5d"/>
<rect x="1774" y="458" width="42" height="41" fill="#fc8a6a"/>
<rect x="1816" y="458" width="42" height="41" fill="#fcb296"/>
<rect x="1858" y="458" width="41" height="41" fill="#fdd3c1"/>
<rect x="1899" y="458" width="42" height="41" fill="#fee3d6"/>
<rect x="1941" y="458" width="42" height="41" fill="#fee5d8"/>
<rect x="1983" y="458" width="42" height="41" fill="#fee5d9"/>
<rect x="2025" y="458" width="41" height="41" fill="#fee5d8"/>
<rect x="2066" y="458" width="42" height="41" fill="#fee3d6"/>
<rect x="2108" y="458" width="42" height="41" fill="#fedfd0"/>
<rect x="2150" y="458" width="42" height="41" fill="#fee5d8"/>
<rect x="1429" y="499" width="11" height="42" fill="#fff0e9"/>
<rect x="1440" y="499" width="41" height="42" fill="#fff4ee"/>
<rect x="1481" y="499" width="42" height="42" fill="#fee8dd"/>
<rect x="1523" y="499" width="84" height="42" fill="#fcae92"/>
<rect x="1607" y="499" width="42" height="42" fill="#fedfd0"/>
<rect x="1649" y="499" width="41" height="42" fill="#fdd3c1"/>
<rect x="1690" y="499" width="42" height="42" fill="#fca78b"/>
<rect x="1732" y="499" width="42" height="42" fill="#fc9d7f"/>
<rect x="1774" y="499" width="84" height="42" fill="#fca183"/>
<rect x="1858" y="499" width="41" height="42" fill="#fcae92"/>
<rect x="1899" y="499" width="42" height="42" fill="#fcc4ad"/>
<rect x="1941" y="499" width="42" height="42" fill="#fdd0bc"/>
<rect x="1983" y="499" width="42" height="42" fill="#fdd3c1"/>
<rect x="2025" y="499" width="41" height="42" fill="#fdc7b2"/>
<rect x="2066" y="499" width="42" height="42" fill="#fdcab5"/>
<rect x="2108" y="499" width="84" height="42" fill="#fdd3c1"/>
<rect x="1429" y="541" width="11" height="42" fill="#fff0e9"/>
<rect x="1440" y="541" width="41" height="42" fill="#fff2eb"/>
<rect x="1481" y="541" width="42" height="42" fill="#fff4ee"/>
<rect x="1523" y="541" width="42" height="42" fill="#fee6da"/>
<rect x="1565" y="541" width="42" height="42" fill="#fcb296"/>
<rect x="1607" y="541" width="42" height="42" fill="#fcb89e"/>
<rect x="1649" y="541" width="41" height="42" fill="#fdd7c6"/>
<rect x="1690" y="541" width="42" height="42" fill="#fcbba1"/>
<rect x="1732" y="541" width="42" height="42" fill="#fc9d7f"/>
<rect x="1774" y="541" width="42" height="42" fill="#fcae92"/>
<rect x="1816" y="541" width="83" height="42" fill="#fdcdb9"/>
<rect x="1899" y="541" width="42" height="42" fill="#fcc4ad"/>
<rect x="1941" y="541" width="42" height="42" fill="#fcb296"/>
<rect x="1983" y="541" width="42" height="42" fill="#fcae92"/>
<rect x="2025" y="541" width="41" height="42" fill="#fcbea5"/>
<rect x="2066" y="541" width="42" height="42" fill="#fdcab5"/>
<rect x="2108" y="541" width="42" height="42" fill="#fdd3c1"/>
<rect x="1429" y="583" width="11" height="41" fill="#fff0e9"/>
<rect x="1440" y="583" width="83" height="41" fill="#fff2eb"/>
<rect x="1523" y="583" width="42" height="41" fill="#fff0e9"/>
<rect x="1565" y="583" width="42" height="41" fill="#fedccd"/>
<rect x="1607" y="583" width="42" height="41" fill="#fcb296"/>
<rect x="1649" y="583" width="41" height="41" fill="#fdcab5"/>
<rect x="1690" y="583" width="42" height="41" fill="#fdcdb9"/>
<rect x="1732" y="583" width="42" height="41" fill="#fc9d7f"/>
<rect x="1774" y="583" width="42" height="41" fill="#fca183"/>
<rect x="1816" y="583" width="42" height="41" fill="#fdd0bc"/>
<rect x="1858" y="583" width="41" height="41" fill="#fee1d4"/>
<rect x="1899" y="583" width="42" height="41" fill="#fdcab5"/>
<rect x="1941" y="583" width="42" height="41" fill="#fca588"/>
<rect x="1983" y="583" width="42" height="41" fill="#fcb499"/>
<rect x="2025" y="583" width="83" height="41" fill="#fdd3c1"/>
<rect x="2108" y="583" width="42" height="41" fill="#fdcdb9"/>
<rect x="1429" y="624" width="11" height="42" fill="#ffede5"/>
<rect x="1440" y="624" width="41" height="42" fill="#fff3ed"/>
<rect x="1481" y="624" width="42" height="42" fill="#fff4ee"/>
<rect x="1523" y="624" width="42" height="42" fill="#fff0e9"/>
<rect x="1565" y="624" width="42" height="42" fill="#feeae0"/>
<rect x="1607" y="624" width="42" height="42" fill="#fcb296"/>
<rect x="1649" y="624" width="41" height="42" fill="#fcb499"/>
<rect x="1690" y="624" width="42" height="42" fill="#fdd3c1"/>
<rect x="1732" y="624" width="42" height="42" fill="#fcb296"/>
<rect x="1774" y="624" width="42" height="42" fill="#fca78b"/>
<rect x="1816" y="624" width="42" height="42" fill="#fdd7c6"/>
<rect x="1858" y="624" width="41" height="42" fill="#fee3d6"/>
<rect x="1899" y="624" width="84" height="42" fill="#fdcdb9"/>
<rect x="1983" y="624" width="42" height="42" fill="#fcc4ad"/>
<rect x="2025" y="624" width="41" height="42" fill="#fdd0bc"/>
<rect x="2066" y="624" width="42" height="42" fill="#fee1d4"/>
<rect x="1429" y="666" width="11" height="42" fill="#fee8dd"/>
<rect x="1440" y="666" width="41" height="42" fill="#ffede5"/>
<rect x="1481" y="666" width="126" height="42" fill="#fff4ee"/>
<rect x="1607" y="666" width="42" height="42" fill="#fdcdb9"/>
<rect x="1649" y="666" width="41" height="42" fill="#fcae92"/>
<rect x="1690" y="666" width="42" height="42" fill="#fdc7b2"/>
<rect x="1732" y="666" width="84" height="42" fill="#fca78b"/>
<rect x="1816" y="666" width="42" height="42" fill="#fedfd0"/>
<rect x="1858" y="666" width="41" height="42" fill="#fee3d6"/>
<rect x="1899" y="666" width="42" height="42" fill="#fdd7c6"/>
<rect x="1941" y="666" width="42" height="42" fill="#fedfd0"/>
<rect x="1983" y="666" width="42" height="42" fill="#fcab8f"/>
<rect x="2025" y="666" width="41" height="42" fill="#fcbba1"/>
<rect x="1429" y="708" width="52" height="42" fill="#ffede5"/>
<rect x="1481" y="708" width="42" height="42" fill="#fff0e8"/>
<rect x="1523" y="708" width="42" height="42" fill="#fff4ee"/>
<rect x="1565" y="708" width="42" height="42" fill="#fff2eb"/>
<rect x="1607" y="708" width="42" height="42" fill="#fedfd0"/>
<rect x="1649" y="708" width="41" height="42" fill="#fcb296"/>
<rect x="1690" y="708" width="42" height="42" fill="#fcbba1"/>
<rect x="1732" y="708" width="42" height="42" fill="#fc9b7c"/>
<rect x="1774" y="708" width="42" height="42" fill="#fca588"/>
<rect x="1816" y="708" width="42" height="42" fill="#fee1d4"/>
<rect x="1858" y="708" width="41" height="42" fill="#fcc4ad"/>
<rect x="1899" y="708" width="42" height="42" fill="#fdd3c1"/>
<rect x="1941" y="708" width="42" height="42" fill="#fdcab5"/>
<rect x="1983" y="708" width="42" height="42" fill="#fcc4ad"/>
<rect x="2025" y="708" width="41" height="42" fill="#fed9c9"/>
<rect x="2066" y="708" width="42" height="42" fill="#fcae92"/>
<rect x="1429" y="750" width="11" height="41" fill="#ffede5"/>
<rect x="1440" y="750" width="41" height="41" fill="#fff3ed"/>
<rect x="1481" y="750" width="42" height="41" fill="#fff0e9"/>
<rect x="1523" y="750" width="42" height="41" fill="#ffede5"/>
<rect x="1565" y="750" width="42" height="41" fill="#ffece3"/>
<rect x="1607" y="750" width="42" height="41" fill="#fee6da"/>
<rect x="1649" y="750" width="41" height="41" fill="#fcbba1"/>
<rect x="1690" y="750" width="42" height="41" fill="#fcab8f"/>
<rect x="1732" y="750" width="42" height="41" fill="#fc9070"/>
<rect x="1774" y="750" width="42" height="41" fill="#fcae92"/>
<rect x="1816" y="750" width="42" height="41" fill="#fdcdb9"/>
<rect x="1858" y="750" width="41" height="41" fill="#fcc4ad"/>
<rect x="1899" y="750" width="42" height="41" fill="#fedfd0"/>
<rect x="1941" y="750" width="42" height="41" fill="#fcb499"/>
<rect x="1983" y="750" width="42" height="41" fill="#fdd0bc"/>
<rect x="2025" y="750" width="41" height="41" fill="#fed9c9"/>
<rect x="2066" y="750" width="42" height="41" fill="#fcc4ad"/>
<rect x="1429" y="791" width="11" height="42" fill="#ffede5"/>
<rect x="1440" y="791" width="41" height="42" fill="#fff0e9"/>
<rect x="1481" y="791" width="42" height="42" fill="#ffeee7"/>
<rect x="1523" y="791" width="84" height="42" fill="#feeae0"/>
<rect x="1607" y="791" width="42" height="42" fill="#fff0e9"/>
<rect x="1649" y="791" width="41" height="42" fill="#fdc7b2"/>
<rect x="1690" y="791" width="84" height="42" fill="#fc9b7c"/>
<rect x="1774" y="791" width="42" height="42" fill="#fdc7b2"/>
<rect x="1816" y="791" width="42" height="42" fill="#fdcdb9"/>
<rect x="1858" y="791" width="41" height="42" fill="#fedccd"/>
<rect x="1899" y="791" width="42" height="42" fill="#fdd7c6"/>
<rect x="1941" y="791" width="42" height="42" fill="#fcb89e"/>
<rect x="1983" y="791" width="42" height="42" fill="#fedccd"/>
<rect x="2025" y="791" width="41" height="42" fill="#fee6da"/>
<rect x="2066" y="791" width="42" height="42" fill="#fdd7c6"/>
<rect x="1429" y="833" width="94" height="42" fill="#ffede5"/>
<rect x="1523" y="833" width="42" height="42" fill="#fff0e9"/>
<rect x="1565" y="833" width="42" height="42" fill="#feeae0"/>
<rect x="1607" y="833" width="42" height="42" fill="#ffede5"/>
<rect x="1649" y="833" width="41" height="42" fill="#fedccd"/>
<rect x="1690" y="833" width="42" height="42" fill="#fc9d7f"/>
<rect x="1732" y="833" width="42" height="42" fill="#fca183"/>
<rect x="1774" y="833" width="42" height="42" fill="#fdd7c6"/>
<rect x="1816" y="833" width="42" height="42" fill="#fed9c9"/>
<rect x="1858" y="833" width="41" height="42" fill="#fedccd"/>
<rect x="1899" y="833" width="42" height="42" fill="#fcb89e"/>
<rect x="1941" y="833" width="42" height="42" fill="#fc8a6a"/>
<rect x="1983" y="833" width="42" height="42" fill="#fc9d7f"/>
<rect x="2025" y="833" width="41" height="42" fill="#fc9070"/>
<rect x="2066" y="833" width="42" height="42" fill="#fc8464"/>
<rect x="2108" y="833" width="42" height="42" fill="#fb7a5a"/>
<rect x="1429" y="875" width="11" height="42" fill="#fed9c9"/>
<rect x="1440" y="875" width="41" height="42" fill="#ffede5"/>
<rect x="1481" y="875" width="42" height="42" fill="#fff0e9"/>
<rect x="1523" y="875" width="42" height="42" fill="#fff2eb"/>
<rect x="1565" y="875" width="42" height="42" fill="#ffede5"/>
<rect x="1607" y="875" width="83" height="42" fill="#fee8dd"/>
<rect x="1690" y="875" width="42" height="42" fill="#fcae92"/>
<rect x="1732" y="875" width="42" height="42" fill="#fcab8f"/>
<rect x="1774" y="875" width="42" height="42" fill="#fedccd"/>
<rect x="1816" y="875" width="42" height="42" fill="#fee5d8"/>
<rect x="1858" y="875" width="41" height="42" fill="#fdd7c6"/>
<rect x="1899" y="875" width="42" height="42" fill="#fcc4ad"/>
<rect x="1941" y="875" width="42" height="42" fill="#fc8a6a"/>
<rect x="1983" y="875" width="42" height="42" fill="#fb7151"/>
<rect x="2025" y="875" width="41" height="42" fill="#fb7757"/>
<rect x="2066" y="875" width="42" height="42" fill="#fca588"/>
<rect x="2108" y="875" width="42" height="42" fill="#fcc4ad"/>
<rect x="2150" y="875" width="42" height="42" fill="#fcb296"/>
<rect x="1429" y="917" width="11" height="41" fill="#fca588"/>
<rect x="1440" y="917" width="41" height="41" fill="#fee8dd"/>
<rect x="1481" y="917" width="42" height="41" fill="#fff4ee"/>
<rect x="1523" y="917" width="42" height="41" fill="#fff2eb"/>
<rect x="1565" y="917" width="42" height="41" fill="#fff0e9"/>
<rect x="1607" y="917" width="42" height="41" fill="#ffede5"/>
<rect x="1649" y="917" width="41" height="41" fill="#fff4ee"/>
<rect x="1690" y="917" width="42" height="41" fill="#fcc4ad"/>
<rect x="1732" y="917" width="42" height="41" fill="#fca78b"/>
<rect x="1774" y="917" width="42" height="41" fill="#fedccd"/>
<rect x="1816" y="917" width="42" height="41" fill="#fed9c9"/>
<rect x="1858" y="917" width="41" height="41" fill="#fdc7b2"/>
<rect x="1899" y="917" width="42" height="41" fill="#fdcdb9"/>
<rect x="1941" y="917" width="42" height="41" fill="#fdc7b2"/>
<rect x="1983" y="917" width="42" height="41" fill="#fcae92"/>
<rect x="2025" y="917" width="41" height="41" fill="#fcc4ad"/>
<rect x="2066" y="917" width="42" height="41" fill="#fdd3c1"/>
<rect x="2108" y="917" width="42" height="41" fill="#fedccd"/>
<rect x="2150" y="917" width="42" height="41" fill="#fed9c9"/>
<rect x="2192" y="917" width="42" height="41" fill="#fcae92"/>
<rect x="1429" y="958" width="11" height="42" fill="#fc8767"/>
<rect x="1440" y="958" width="41" height="42" fill="#fedccd"/>
<rect x="1481" y="958" width="84" height="42" fill="#fff4ee"/>
<rect x="1565" y="958" width="42" height="42" fill="#ffebe2"/>
<rect x="1607" y="958" width="42" height="42" fill="#fff0e9"/>
<rect x="1649" y="958" width="41" height="42" fill="#fff2eb"/>
<rect x="1690" y="958" width="42" height="42" fill="#fedfd0"/>
<rect x="1732" y="958" width="42" height="42" fill="#fcbea5"/>
<rect x="1774" y="958" width="42" height="42" fill="#fedccd"/>
<rect x="1816" y="958" width="42" height="42" fill="#fdd0bc"/>
<rect x="1858" y="958" width="41" height="42" fill="#fcc4ad"/>
<rect x="1899" y="958" width="42" height="42" fill="#fedccd"/>
<rect x="1941" y="958" width="42" height="42" fill="#fedfd0"/>
<rect x="1983" y="958" width="42" height="42" fill="#fdd3c1"/>
<rect x="2025" y="958" width="41" height="42" fill="#fdcdb9"/>
<rect x="2066" y="958" width="42" height="42" fill="#fdc7b2"/>
<rect x="2108" y="958" width="42" height="42" fill="#fcc4ad"/>
<rect x="2150" y="958" width="42" height="42" fill="#fee5d8"/>
<rect x="2192" y="958" width="42" height="42" fill="#fdd0bc"/>
<rect x="1429" y="1000" width="11" height="42" fill="#fc8a6a"/>
<rect x="1440" y="1000" width="41" height="42" fill="#fcc4ad"/>
<rect x="1481" y="1000" width="42" height="42" fill="#fff0e9"/>
<rect x="1523" y="1000" width="42" height="42" fill="#fff2eb"/>
<rect x="1565" y="1000" width="42" height="42" fill="#fff0e9"/>
<rect x="1607" y="1000" width="42" height="42" fill="#fff0e8"/>
<rect x="1649" y="1000" width="41" height="42" fill="#ffede5"/>
<rect x="1690" y="1000" width="42" height="42" fill="#fedfd0"/>
<rect x="1732" y="1000" width="42" height="42" fill="#fed9c9"/>
<rect x="1774" y="1000" width="42" height="42" fill="#fee6da"/>
<rect x="1816" y="1000" width="42" height="42" fill="#fdd0bc"/>
<rect x="1858" y="1000" width="41" height="42" fill="#fedccd"/>
<rect x="1899" y="1000" width="42" height="42" fill="#fee8dd"/>
<rect x="1941" y="1000" width="42" height="42" fill="#ffebe2"/>
<rect x="1983" y="1000" width="125" height="42" fill="#fee5d8"/>
<rect x="2108" y="1000" width="42" height="42" fill="#fed9c9"/>
<rect x="2150" y="1000" width="42" height="42" fill="#fee3d6"/>
<rect x="2192" y="1000" width="42" height="42" fill="#fee6da"/>
<rect x="1429" y="1042" width="11" height="42" fill="#fc9777"/>
<rect x="1440" y="1042" width="41" height="42" fill="#fcae92"/>
<rect x="1481" y="1042" width="42" height="42" fill="#fff4ee"/>
<rect x="1523" y="1042" width="42" height="42" fill="#fff4ef"/>
<rect x="1565" y="1042" width="42" height="42" fill="#ffeee7"/>
<rect x="1607" y="1042" width="42" height="42" fill="#fff4ee"/>
<rect x="1649" y="1042" width="41" height="42" fill="#fee8dd"/>
<rect x="1690" y="1042" width="42" height="42" fill="#fed9c9"/>
<rect x="1732" y="1042" width="42" height="42" fill="#fee6da"/>
<rect x="1774" y="1042" width="42" height="42" fill="#fee5d8"/>
<rect x="1816" y="1042" width="42" height="42" fill="#fed9c9"/>
<rect x="1858" y="1042" width="41" height="42" fill="#fee8dd"/>
<rect x="1899" y="1042" width="42" height="42" fill="#fff2eb"/>
<rect x="1941" y="1042" width="42" height="42" fill="#fff0e9"/>
<rect x="1983" y="1042" width="42" height="42" fill="#fff2eb"/>
<rect x="2025" y="1042" width="41" height="42" fill="#fff3ed"/>
<rect x="2066" y="1042" width="84" height="42" fill="#ffeee7"/>
<rect x="2150" y="1042" width="42" height="42" fill="#fee5d8"/>
<rect x="2192" y="1042" width="42" height="42" fill="#fed9c9"/>
<rect x="2234" y="1042" width="41" height="42" fill="#fca588"/>
<rect x="1429" y="1084" width="11" height="32" fill="#fca588"/>
<rect x="1440" y="1084" width="41" height="32" fill="#fcbea5"/>
<rect x="1481" y="1084" width="42" height="32" fill="#fff2eb"/>
<rect x="1523" y="1084" width="42" height="32" fill="#fff0e9"/>
<rect x="1565" y="1084" width="42" height="32" fill="#ffede5"/>
<rect x="1607" y="1084" width="42" height="32" fill="#fff4ee"/>
<rect x="1649" y="1084" width="41" height="32" fill="#fee5d8"/>
<rect x="1690" y="1084" width="42" height="32" fill="#fedccd"/>
<rect x="1732" y="1084" width="42" height="32" fill="#fff2eb"/>
<rect x="1774" y="1084" width="42" height="32" fill="#fee1d4"/>
<rect x="1816" y="1084" width="42" height="32" fill="#fee6da"/>
<rect x="1858" y="1084" width="41" height="32" fill="#fff0e9"/>
<rect x="1899" y="1084" width="42" height="32" fill="#fff2eb"/>
<rect x="1941" y="1084" width="42" height="32" fill="#fff0e9"/>
<rect x="1983" y="1084" width="83" height="32" fill="#ffede5"/>
<rect x="2066" y="1084" width="42" height="32" fill="#fff2eb"/>
<rect x="2108" y="1084" width="42" height="32" fill="#fff4ee"/>
<rect x="2150" y="1084" width="42" height="32" fill="#ffede5"/>
<rect x="2192" y="1084" width="42" height="32" fill="#fee3d6"/>
<rect x="2234" y="1084" width="41" height="32" fill="#fcc4ad"/>
</g>
<g clip-path="url(#cr)"><path d="M2348 178 L2345.2 187.6 L2342.9 199 L2258.4 426.2 L2246.8 443.8 L2211.3 480.4 L2199.2 499.9 L2192.5 526.2 L2189.6 550.2 L2186.6 570.8 L2183.2 581.8 L2167.4 594.8 L2151.1 625 L2143.3 640 L2132.4 648 L2109.5 658.8 L2100.3 668.6 L2093.9 684.6 L2097.4 693.1 L2104.4 702.3 L2107.6 715.5 L2107.9 751 L2110.6 760.2 L2120.9 780.1 L2120.5 801.3 L2107.2 840.9 L2125 840.9 L2141.5 844.1 L2164.4 855.6 L2185 875 L2212.8 905.1 L2227.9 970.7 L2239.5 995.2 L2256.8 1020.8 L2262 1051.9 L2264.2 1114.7 L2348.1 1114.7 L2348.1 178 Z" fill="#fff"/><path d="M2348 178 L2345.2 187.6 L2342.9 199 L2258.4 426.2 L2246.8 443.8 L2211.3 480.4 L2199.2 499.9 L2192.5 526.2 L2189.6 550.2 L2186.6 570.8 L2183.2 581.8 L2167.4 594.8 L2151.1 625 L2143.3 640 L2132.4 648 L2109.5 658.8 L2100.3 668.6 L2093.9 684.6 L2097.4 693.1 L2104.4 702.3 L2107.6 715.5 L2107.9 751 L2110.6 760.2 L2120.9 780.1 L2120.5 801.3 L2107.2 840.9 L2125 840.9 L2141.5 844.1 L2164.4 855.6 L2185 875 L2212.8 905.1 L2227.9 970.7 L2239.5 995.2 L2256.8 1020.8 L2262 1051.9 L2264.2 1114.7" fill="none" stroke="#808080" stroke-width="4.17" stroke-linejoin="round"/></g>
<rect x="1430" y="92" width="918.1" height="1022.7" fill="none" stroke="#000" stroke-width="6.25"/>
<path clip-path="url(#cr)" d="M2348 178 L2345.2 187.6 L2342.9 199 L2258.4 426.2 L2246.8 443.8 L2211.3 480.4 L2199.2 499.9 L2192.5 526.2 L2189.6 550.2 L2186.6 570.8 L2183.2 581.8 L2167.4 594.8 L2151.1 625 L2143.3 640 L2132.4 648 L2109.5 658.8 L2100.3 668.6 L2093.9 684.6 L2097.4 693.1 L2104.4 702.3 L2107.6 715.5 L2107.9 751 L2110.6 760.2 L2120.9 780.1 L2120.5 801.3 L2107.2 840.9 L2125 840.9 L2141.5 844.1 L2164.4 855.6 L2185 875 L2212.8 905.1 L2227.9 970.7 L2239.5 995.2 L2256.8 1020.8 L2262 1051.9 L2264.2 1114.7 L2348.1 1114.7 L2348.1 178 Z" fill="#808000" fill-opacity="0.5"/>
<text x="489.05" y="68.4" font-size="50.0" text-anchor="middle">Temporal gradient</text>
<text x="1889.05" y="68.4" font-size="50.0" text-anchor="middle">Spatial gradient</text>
<path d="M982.1 355.36 L995.6 330 L1009.1 355.36 Z" fill="#fde725"/>
<path d="M982.1 851.64 L995.6 877 L1009.1 851.64 Z" fill="#440154"/>
<rect x="982.1" y="354.86" width="27" height="497.27" fill="url(#gv)"/>
<path d="M982.1 354.86 L995.6 330 L1009.1 354.86 L1009.1 852.14 L995.6 877 L982.1 852.14 Z" fill="none" stroke="#000" stroke-width="6.25" stroke-linejoin="miter" stroke-miterlimit="10"/>
<text x="1008.8" y="318.4" font-size="41.67" text-anchor="end" letter-spacing="-0.15">1e−5</text>
<text x="1024.5" y="868.84" font-size="41.67">0</text>
<text x="1024.5" y="744.52" font-size="41.67">1</text>
<text x="1024.5" y="620.2" font-size="41.67">2</text>
<text x="1024.5" y="495.88" font-size="41.67">3</text>
<text x="1024.5" y="371.56" font-size="41.67">4</text>
<text transform="translate(1102.5 604) rotate(-90)" font-size="41.67" text-anchor="middle" letter-spacing="0.2">∂<tspan font-style="oblique">T</tspan>/∂<tspan font-style="oblique">t</tspan> [K s<tspan font-size="29.17" dy="-15">−1</tspan><tspan dy="15">]</tspan></text>
<rect x="2382.1" y="330" width="27" height="547" fill="url(#gr)" stroke="#000" stroke-width="6.25"/>
<text x="2424.7" y="893.7" font-size="41.67" letter-spacing="-0.15">0.00000</text>
<text x="2424.7" y="784.3" font-size="41.67" letter-spacing="-0.15">0.00002</text>
<text x="2424.7" y="674.9" font-size="41.67" letter-spacing="-0.15">0.00004</text>
<text x="2424.7" y="565.5" font-size="41.67" letter-spacing="-0.15">0.00006</text>
<text x="2424.7" y="456.1" font-size="41.67" letter-spacing="-0.15">0.00008</text>
<text x="2424.7" y="346.7" font-size="41.67" letter-spacing="-0.15">0.00010</text>
<text transform="translate(2650.3 603.7) rotate(-90)" font-size="41.67" text-anchor="middle" letter-spacing="0.2">∂<tspan font-style="oblique">T</tspan>/∂<tspan font-style="oblique">s</tspan> [K m<tspan font-size="29.17" dy="-15">−1</tspan><tspan dy="15">]</tspan></text>
</svg>
</body></html>
